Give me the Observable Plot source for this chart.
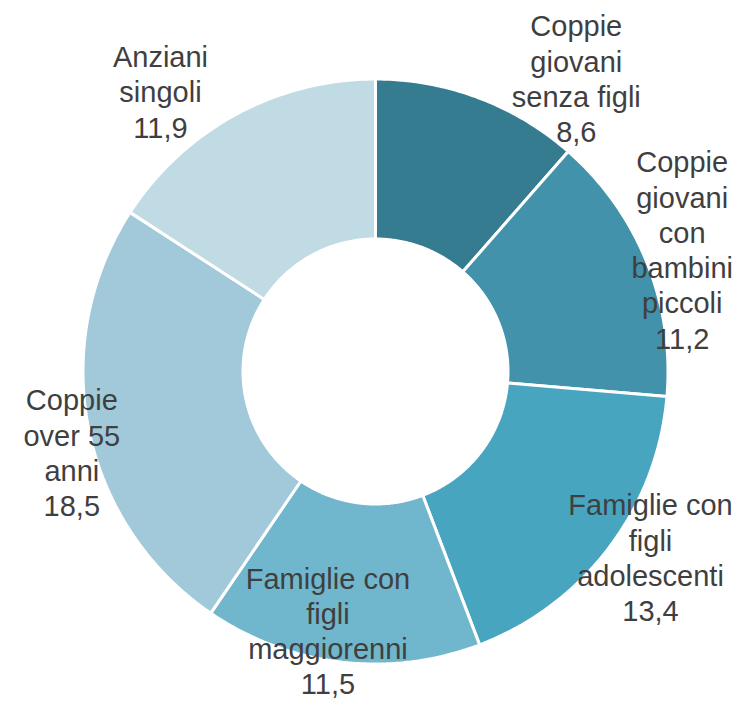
<!DOCTYPE html>
<html>
<head>
<meta charset="utf-8">
<script src="https://cdn.jsdelivr.net/npm/d3@7"></script>
<script src="https://cdn.jsdelivr.net/npm/@observablehq/plot@0.6"></script>
<style>
  html, body { margin: 0; padding: 0; background: #fff; }
  #chart svg { display: block; }
</style>
</head>
<body>
<div id="chart"></div>
<script>
// ---- data ----
const categories = [
  "Coppie\ngiovani\nsenza figli",
  "Coppie\ngiovani\ncon\nbambini\npiccoli",
  "Famiglie con\nfigli\nadolescenti",
  "Famiglie con\nfigli\nmaggiorenni",
  "Coppie\nover 55\nanni",
  "Anziani\nsingoli"
];
const values = [8.6, 11.2, 13.4, 11.5, 18.5, 11.9];
const valueLabels = ["8,6", "11,2", "13,4", "11,5", "18,5", "11,9"];

// ---- style / layout ----
const colors = ["#357c90", "#4192aa", "#48a5bf", "#70b6cc", "#a2c9da", "#c1dbe4"];
const outerR = 292.5, innerR = 132.5;
// label placement (polar: degrees clockwise from top, distance from centre)
const labelAngle = [34.39, 68.25, 124.02, 190.41, 255.13, 322.51];
const labelDist = [355.5, 330.2, 331.8, 263.0, 314.2, 353.3];

const pie = d3.pie().sort(null).value(d => d)(values);
const toXY = (a, r) => [r * Math.sin(a), r * Math.cos(a)];

const polys = [];
pie.forEach((s, i) => {
  const n = Math.max(8, Math.ceil((s.endAngle - s.startAngle) / 0.01));
  for (let k = 0; k <= n; k++) {
    const a = s.startAngle + (s.endAngle - s.startAngle) * k / n;
    const [x, y] = toXY(a, outerR);
    polys.push({key: categories[i], x, y});
  }
  for (let k = n; k >= 0; k--) {
    const a = s.startAngle + (s.endAngle - s.startAngle) * k / n;
    const [x, y] = toXY(a, innerR);
    polys.push({key: categories[i], x, y});
  }
});

const labels = categories.map((c, i) => {
  const a = labelAngle[i] * Math.PI / 180;
  const [x, y] = toXY(a, labelDist[i]);
  return {text: c + "\n" + valueLabels[i], x, y};
});

const chart = Plot.plot({
  width: 744,
  height: 706,
  margin: 0,
  style: {background: "#fff", fontFamily: "'Liberation Sans', Arial, sans-serif"},
  x: {domain: [-375, 369], axis: null},
  y: {domain: [-335, 371], axis: null},
  color: {domain: categories, range: colors},
  marks: [
    Plot.line(polys, {
      x: "x", y: "y", z: "key", fill: "key",
      stroke: "#ffffff", strokeWidth: 3, curve: "linear-closed", strokeLinejoin: "miter"
    }),
    Plot.text(labels, {
      x: "x", y: "y", text: "text",
      fontSize: 29, lineHeight: 1.217, fill: "#3f3f3f",
      textAnchor: "middle", lineAnchor: "middle",
      fontFamily: "'Liberation Sans', Arial, sans-serif"
    })
  ]
});
document.getElementById("chart").appendChild(chart);
</script>
</body>
</html>
